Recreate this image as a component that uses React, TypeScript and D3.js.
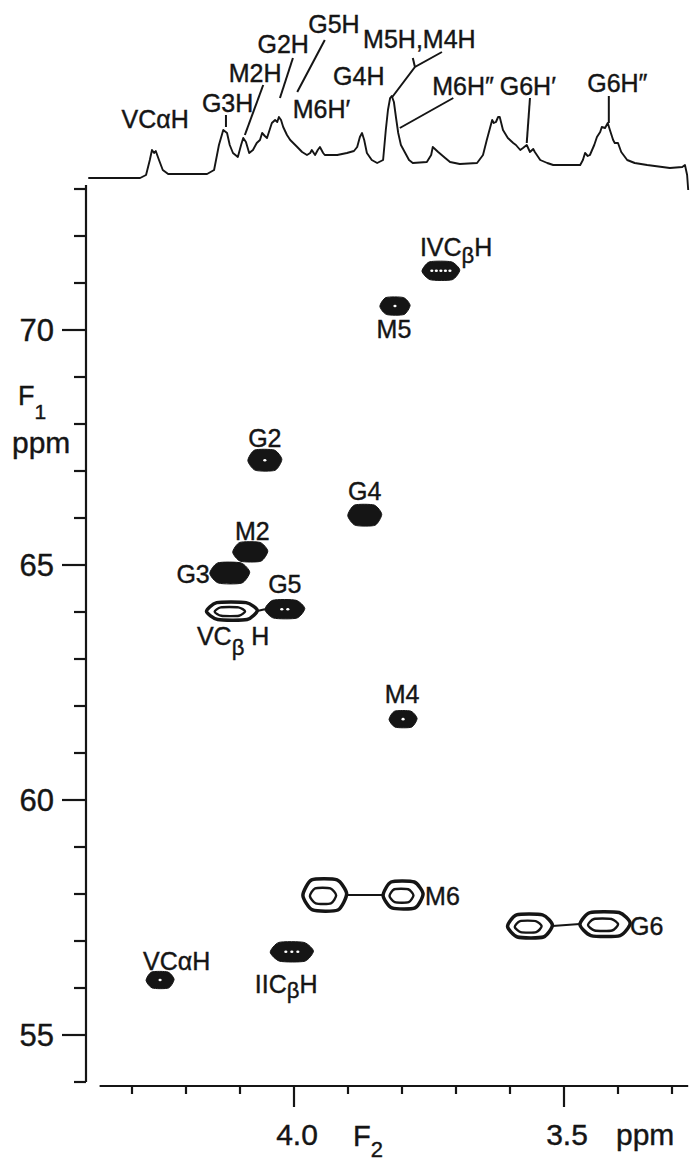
import * as d3 from "d3";

const W = 691;
const H = 1166;

// 1D proton trace drawn along the top (F2 ppm, intensity)
const tracePpm = [
  4.381, 4.285, 4.274, 4.267, 4.263, 4.259, 4.256, 4.25, 4.243, 4.233, 4.161, 4.148, 4.139, 4.131, 4.124, 4.119,
  4.113, 4.104, 4.098, 4.094, 4.089, 4.083, 4.076, 4.069, 4.063, 4.059, 4.054, 4.05, 4.044, 4.041, 4.035, 4.031,
  4.028, 4.024, 4.02, 4.013, 4.007, 3.994, 3.985, 3.976, 3.97, 3.967, 3.961, 3.956, 3.952, 3.946, 3.943, 3.92,
  3.902, 3.889, 3.883, 3.878, 3.874, 3.87, 3.865, 3.856, 3.846, 3.835, 3.83, 3.826, 3.822, 3.819, 3.815, 3.811,
  3.807, 3.802, 3.794, 3.787, 3.78, 3.754, 3.746, 3.743, 3.737, 3.733, 3.72, 3.711, 3.693, 3.661, 3.65, 3.643,
  3.637, 3.633, 3.63, 3.626, 3.622, 3.619, 3.613, 3.604, 3.594, 3.589, 3.581, 3.576, 3.569, 3.563, 3.557, 3.554,
  3.544, 3.531, 3.52, 3.47, 3.465, 3.461, 3.456, 3.452, 3.444, 3.439, 3.433, 3.43, 3.424, 3.419, 3.415, 3.409,
  3.406, 3.4, 3.394, 3.383, 3.369, 3.346, 3.304, 3.281, 3.276, 3.272, 3.27,
];
const traceInt = [
  2, 2, 5, 20, 30, 27, 29, 20, 10, 6, 6, 10, 35, 50, 47, 35,
  27, 23, 35, 42, 38, 27, 30, 37, 40, 47, 44, 42, 52, 57, 60, 58,
  63, 60, 53, 45, 40, 33, 28, 25, 27, 30, 25, 30, 33, 27, 25, 25,
  27, 29, 33, 43, 47, 40, 27, 20, 17, 20, 50, 70, 82, 84, 78, 62,
  47, 35, 27, 20, 17, 18, 25, 33, 30, 28, 22, 18, 16, 17, 25, 40,
  52, 60, 57, 58, 63, 63, 50, 42, 37, 35, 30, 32, 35, 28, 31, 28,
  20, 17, 15, 15, 20, 27, 24, 25, 35, 43, 48, 53, 52, 57, 50, 40,
  37, 37, 28, 20, 17, 15, 12, 13, 15, 5, -10,
];

// cross peaks (F2 1H ppm, F1 13C ppm), linewidths in ppm, holes inside the lowest contour
const peakIds = ["IVCβH", "M5", "G2", "G4", "M2", "G3", "G5", "VCβH", "M4", "M6a", "M6b", "G6a", "G6b", "IICβH", "VCαH"];
const peakF2 = [3.728, 3.813, 4.054, 3.869, 4.081, 4.119, 4.017, 4.115, 3.798, 3.943, 3.798, 3.563, 3.424, 4.004, 4.248];
const peakF1 = [71.26, 70.51, 67.23, 66.06, 65.28, 64.83, 64.06, 64.02, 61.72, 57.98, 57.98, 57.32, 57.36, 56.77, 56.17];
const lwF2 = [0.07, 0.056, 0.063, 0.063, 0.065, 0.074, 0.074, 0.094, 0.052, 0.081, 0.074, 0.083, 0.093, 0.08, 0.052];
const lwF1 = [0.38, 0.36, 0.43, 0.43, 0.4, 0.43, 0.38, 0.36, 0.34, 0.64, 0.55, 0.47, 0.49, 0.4, 0.34];
const peakHoles = [5, 1, 1, 0, 0, 0, 2, 0, 1, 0, 0, 0, 0, 3, 1];
const openPeaks = ["VCβH", "M6a", "M6b", "G6a", "G6b"];
const linkedPeaks = [["VCβH", "G5"], ["M6a", "M6b"], ["G6a", "G6b"]];

const f1Ticks = d3.range(54, 74);
const f1Major = [70, 65, 60, 55];
const f2Ticks = d3.range(33, 44).map((d) => d / 10);
const f2Major = [4.0, 3.5];

const FONT = "'Liberation Sans', Arial, Helvetica, sans-serif";
const INK = "#151515";

// label placement for the 2D peaks: [text parts], offsets in px from peak centre
type Part = { t: string; dy?: number; fs?: number };
const peakText: Record<string, { parts: Part[]; dx: number; dy: number; anchor: string }> = {
  "IVCβH": { parts: [{ t: "IVC" }, { t: "β", dy: 7, fs: 22 }, { t: "H", dy: -7 }], dx: -21, dy: -15, anchor: "start" },
  M5: { parts: [{ t: "M5" }], dx: -1, dy: 32, anchor: "middle" },
  G2: { parts: [{ t: "G2" }], dx: 0, dy: -13, anchor: "middle" },
  G4: { parts: [{ t: "G4" }], dx: 0, dy: -15, anchor: "middle" },
  M2: { parts: [{ t: "M2" }], dx: 2, dy: -12, anchor: "middle" },
  G3: { parts: [{ t: "G3" }], dx: -20, dy: 10, anchor: "end" },
  G5: { parts: [{ t: "G5" }], dx: 0, dy: -16, anchor: "middle" },
  "VCβH": { parts: [{ t: "VC" }, { t: "β", dy: 10, fs: 22 }, { t: " H", dy: -10 }], dx: -35, dy: 34, anchor: "start" },
  M4: { parts: [{ t: "M4" }], dx: -1, dy: -16, anchor: "middle" },
  M6b: { parts: [{ t: "M6" }], dx: 22, dy: 10, anchor: "start" },
  G6b: { parts: [{ t: "G6" }], dx: 25, dy: 11, anchor: "start" },
  "IICβH": { parts: [{ t: "IIC" }, { t: "β", dy: 5, fs: 22 }, { t: "H", dy: -5 }], dx: -37, dy: 41, anchor: "start" },
  "VCαH": { parts: [{ t: "VC" }, { t: "α" }, { t: "H" }], dx: -17, dy: -10, anchor: "start" },
};

// assignments on the 1D trace: label centre (ppm), baseline (px), leader polylines [ppm, px]
const traceNotes: { parts: Part[]; ppm: number; base: number; anchor: string; leaders: [number, number][][] }[] = [
  { parts: [{ t: "VC" }, { t: "α" }, { t: "H" }], ppm: 4.257, base: 128, anchor: "middle", leaders: [] },
  { parts: [{ t: "G3H" }], ppm: 4.123, base: 112, anchor: "middle", leaders: [[[4.126, 115], [4.126, 127]]] },
  { parts: [{ t: "M2H" }], ppm: 4.072, base: 82, anchor: "middle", leaders: [[[4.057, 85], [4.091, 135]]] },
  { parts: [{ t: "G2H" }], ppm: 4.02, base: 53, anchor: "middle", leaders: [[[4.002, 58], [4.026, 98]]] },
  { parts: [{ t: "G5H" }], ppm: 3.926, base: 33, anchor: "middle", leaders: [[[3.943, 40], [3.994, 92]]] },
  { parts: [{ t: "M6H′" }], ppm: 3.949, base: 118, anchor: "middle", leaders: [] },
  { parts: [{ t: "G4H" }], ppm: 3.88, base: 85, anchor: "middle", leaders: [] },
  {
    parts: [{ t: "M5H,M4H" }], ppm: 3.872, base: 48, anchor: "start",
    leaders: [[[3.818, 97], [3.776, 67], [3.726, 52]], [[3.776, 67], [3.78, 58]]],
  },
  { parts: [{ t: "M6H″" }], ppm: 3.744, base: 95, anchor: "start", leaders: [[[3.705, 98], [3.804, 128]]] },
  { parts: [{ t: "G6H′" }], ppm: 3.619, base: 95, anchor: "start", leaders: [[[3.563, 98], [3.569, 143]]] },
  { parts: [{ t: "G6H″" }], ppm: 3.457, base: 92, anchor: "start", leaders: [[[3.417, 96], [3.417, 123]]] },
];

function RichText({ x, y, parts, fs, anchor }: { x: number; y: number; parts: Part[]; fs: number; anchor: string }) {
  return (
    <text x={x} y={y} fontSize={fs} textAnchor={anchor} fontFamily={FONT} fill={INK} stroke={INK} strokeWidth={0.4}>
      {parts.map((p, i) => (
        <tspan key={i} dy={p.dy ?? 0} fontSize={p.fs ?? fs}>
          {p.t}
        </tspan>
      ))}
    </text>
  );
}

export default function App() {
  const x = d3.scaleLinear().domain([4.0, 3.5]).range([294, 564]);
  const y = d3.scaleLinear().domain([70, 55]).range([330, 1035]);
  const yt = d3.scaleLinear().domain([0, 100]).range([180, 80]);

  const axisX = 86;
  const axisY = 1086;

  const trace = d3
    .line<number>()
    .x((_, i) => x(tracePpm[i]))
    .y((d) => yt(d))
    .curve(d3.curveLinear)(traceInt);

  const leader = d3
    .line<[number, number]>()
    .x((d) => x(d[0]))
    .y((d) => d[1]);

  const blob = d3
    .line<[number, number]>()
    .x((d) => d[0])
    .y((d) => d[1])
    .curve(d3.curveCardinalClosed.tension(0.35));

  const shape = [
    [-0.5, 0.02],
    [-0.3, -0.5],
    [0.28, -0.5],
    [0.5, -0.04],
    [0.3, 0.5],
    [-0.28, 0.5],
  ];

  const peaks = peakIds.map((id, i) => {
    const cx = x(peakF2[i]);
    const cy = y(peakF1[i]);
    const w = Math.abs(x(peakF2[i] + lwF2[i]) - x(peakF2[i]));
    const h = Math.abs(y(peakF1[i] + lwF1[i]) - y(peakF1[i]));
    return { id, cx, cy, w, h, holes: peakHoles[i], open: openPeaks.includes(id) };
  });
  const byId = new Map(peaks.map((p) => [p.id, p]));

  const blobPath = (cx: number, cy: number, w: number, h: number) =>
    blob(shape.map(([a, b]) => [cx + a * w, cy + b * h] as [number, number])) || "";

  const axisText = { fontFamily: FONT, fill: INK, stroke: INK, strokeWidth: 0.4 };

  return (
    <svg width={W} height={H} style={{ position: "absolute", left: 0, top: 0, background: "#fff" }}>
      <rect width={W} height={H} fill="#fff" />

      {/* 1D trace */}
      <path d={trace || ""} fill="none" stroke={INK} strokeWidth={1.9} strokeLinejoin="round" />
      {traceNotes.map((n, i) => (
        <g key={i}>
          <RichText x={x(n.ppm)} y={n.base} parts={n.parts} fs={25} anchor={n.anchor} />
          {n.leaders.map((l, j) => (
            <path key={j} d={leader(l) || ""} fill="none" stroke={INK} strokeWidth={2} />
          ))}
        </g>
      ))}

      {/* F1 axis */}
      <line x1={axisX} x2={axisX} y1={y(73) - 4} y2={y(54)} stroke={INK} strokeWidth={2.2} />
      {f1Ticks.map((t) => (
        <line
          key={t}
          x1={axisX - (f1Major.includes(t) ? 24 : 12)}
          x2={axisX}
          y1={y(t)}
          y2={y(t)}
          stroke={INK}
          strokeWidth={2.2}
        />
      ))}
      {f1Major.map((t) => (
        <text key={t} x={54} y={y(t) + 11} fontSize={31} textAnchor="end" {...axisText}>
          {t}
        </text>
      ))}
      <text x={18} y={405} fontSize={27} {...axisText}>
        F<tspan dy={14} fontSize={21}>1</tspan>
      </text>
      <text x={12} y={453} fontSize={30} {...axisText}>
        ppm
      </text>

      {/* F2 axis */}
      <line x1={x(4.36)} x2={x(3.27)} y1={axisY} y2={axisY} stroke={INK} strokeWidth={2.2} />
      {f2Ticks.map((t) => (
        <line
          key={t}
          x1={x(t)}
          x2={x(t)}
          y1={axisY}
          y2={axisY + (f2Major.some((m) => Math.abs(m - t) < 1e-6) ? 21 : 8)}
          stroke={INK}
          strokeWidth={2.2}
        />
      ))}
      {f2Major.map((t) => (
        <text key={t} x={x(t) + 3} y={1145} fontSize={30} textAnchor="middle" {...axisText}>
          {t.toFixed(1)}
        </text>
      ))}
      <text x={353} y={1146} fontSize={29} {...axisText}>
        F<tspan dy={11} fontSize={22}>2</tspan>
      </text>
      <text x={616} y={1145} fontSize={30} {...axisText}>
        ppm
      </text>

      {/* links between paired cross peaks */}
      {linkedPeaks.map(([a, b]) => {
        const p = byId.get(a)!;
        const q = byId.get(b)!;
        return (
          <line key={a} x1={p.cx + p.w / 2} x2={q.cx - q.w / 2} y1={p.cy} y2={q.cy} stroke={INK} strokeWidth={2} />
        );
      })}

      {/* cross peaks */}
      {peaks.map((p) =>
        p.open ? (
          <g key={p.id}>
            <path d={blobPath(p.cx, p.cy, p.w, p.h)} fill="#fff" stroke={INK} strokeWidth={3.5} />
            <path
              d={blobPath(p.cx - p.w * 0.04, p.cy + p.h * 0.03, p.w * 0.6, p.h * 0.5)}
              fill="none"
              stroke={INK}
              strokeWidth={2.4}
            />
          </g>
        ) : (
          <g key={p.id}>
            <path d={blobPath(p.cx, p.cy, p.w, p.h)} fill={INK} stroke={INK} strokeWidth={1} />
            {d3.range(p.holes).map((k) => (
              <ellipse
                key={k}
                cx={p.cx + (k - (p.holes - 1) / 2) * Math.min(6, (p.w * 0.6) / Math.max(1, p.holes))}
                cy={p.cy}
                rx={1.6}
                ry={1.3}
                fill="#fff"
              />
            ))}
          </g>
        )
      )}

      {/* cross peak labels */}
      {peaks.map((p) => {
        const lab = peakText[p.id];
        if (!lab) return null;
        return <RichText key={p.id} x={p.cx + lab.dx} y={p.cy + lab.dy} parts={lab.parts} fs={25} anchor={lab.anchor} />;
      })}
    </svg>
  );
}
